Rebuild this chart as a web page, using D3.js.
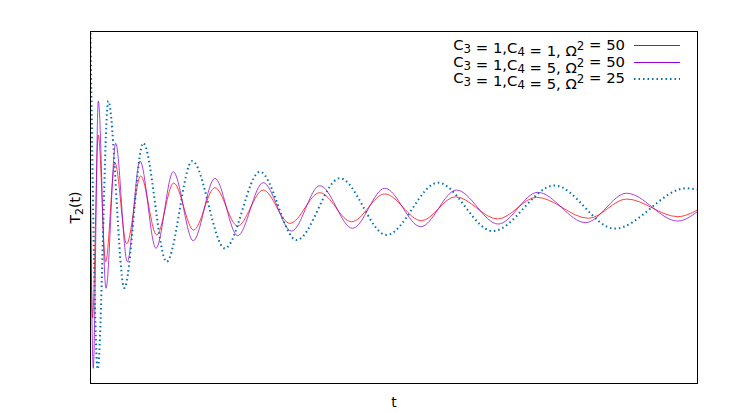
<!DOCTYPE html>
<html>
<head>
<meta charset="utf-8">
<script src="https://cdn.jsdelivr.net/npm/d3@7"></script>
<style>
  html, body { margin: 0; padding: 0; background: #fff; }
  svg { display: block; }
  text { font-family: "DejaVu Sans", sans-serif; fill: #000; }
</style>
</head>
<body>
<svg id="chart" width="742" height="413"></svg>
<script>
// ---- data (turning points of each curve) ----
const tRed = [0, 0.165, 0.642, 1.251, 2.016, 2.979, 4.132, 5.449, 6.848, 8.494, 10.247, 12.115, 14.222, 16.420, 18.889, 21.498, 24.239, 27.259, 30.058, 33.539, 36.749, 41.029, 44.156, 48.379, 50];
const vRed = [0.043, -0.628, 0.412, -0.308, 0.253, -0.207, 0.179, -0.156, 0.139, -0.128, 0.1125, -0.105, 0.099, -0.090, 0.084, -0.081, 0.077, -0.075, 0.061, -0.065, 0.058, -0.061, 0.048, -0.052, -0.014];

const tPurple = [0, 0.230, 0.642, 1.276, 2.074, 3.029, 4.074, 5.391, 6.815, 8.461, 10.247, 12.115, 14.222, 16.560, 18.889, 21.580, 24.239, 27.202, 30.140, 33.580, 36.831, 40.782, 44.156, 48.379, 50];
const vPurple = [0.099, -0.914, 0.605, -0.459, 0.365, -0.308, 0.264, -0.232, 0.203, -0.189, 0.166, -0.160, 0.141, -0.134, 0.124, -0.118, 0.109, -0.109, 0.099, -0.094, 0.086, -0.086, 0.081, -0.077, -0.023];

const tBlue = [0, 0.593, 1.465, 2.782, 4.346, 6.272, 8.379, 11.070, 13.951, 16.971, 20.535, 24.379, 28.626, 33.128, 38.230, 43.169, 49.070, 50];
const vBlue = [0.991, -0.918, 0.605, -0.457, 0.366, -0.308, 0.264, -0.232, 0.203, -0.185, 0.166, -0.156, 0.141, -0.134, 0.125, -0.120, 0.109, 0.102];

const seriesNames = ["C3 = 1,C4 = 1, \u03A92 = 50", "C3 = 1,C4 = 5, \u03A92 = 50", "C3 = 1,C4 = 5, \u03A92 = 25"];
const xDomain = [0, 50];
const yDomain = [-1, 1];
const xLabel = "t";

// ---- layout ----
const svg = d3.select("#chart");
const pLeft = 90.5, pRight = 697.5, pTop = 31.5, pBottom = 383.5;

const x = d3.scaleLinear().domain(xDomain).range([pLeft, pRight]);
const y = d3.scaleLinear().domain(yDomain).range([pBottom, pTop]);

svg.append("defs").append("clipPath").attr("id", "clip")
  .append("rect").attr("x", pLeft).attr("y", pTop)
  .attr("width", pRight - pLeft).attr("height", pBottom - pTop);

const series = [
  { t: tRed, v: vRed, color: "#ff0000", width: 1, dash: null },
  { t: tPurple, v: vPurple, color: "#9400d3", width: 1, dash: null },
  { t: tBlue, v: vBlue, color: "#0072b2", width: 2, dash: "1.5,3" }
];

const line = d3.line().curve(d3.curveMonotoneX)
  .x(d => x(d[0])).y(d => y(d[1]));

const g = svg.append("g").attr("clip-path", "url(#clip)");
series.forEach(s => {
  const pts = s.t.map((t, i) => [t, s.v[i]]);
  g.append("path").datum(pts)
    .attr("d", line)
    .attr("fill", "none")
    .attr("stroke", s.color)
    .attr("stroke-width", s.width)
    .attr("stroke-opacity", s.dash ? 1 : 0.75)
    .attr("stroke-dasharray", s.dash);
});

// frame
svg.append("rect").attr("x", pLeft).attr("y", pTop)
  .attr("width", pRight - pLeft).attr("height", pBottom - pTop)
  .attr("fill", "none").attr("stroke", "#000").attr("stroke-width", 1);

// axis labels
const yl = svg.append("text")
  .attr("transform", "translate(80,207.5) rotate(-90)")
  .attr("text-anchor", "middle").attr("font-size", 14);
yl.append("tspan").text("T");
yl.append("tspan").attr("font-size", 11).attr("dy", 3).text("2");
yl.append("tspan").attr("dy", -3).text("(t)");

svg.append("text").attr("x", 394).attr("y", 407)
  .attr("text-anchor", "middle").attr("font-size", 14).text(xLabel);

// legend
function richLabel(sel, name) {
  const parts = name.split(/(C[0-9]|\u03A9[0-9])/).filter(p => p.length);
  parts.forEach(p => {
    if (/^C[0-9]$/.test(p)) {
      sel.append("tspan").text("C");
      sel.append("tspan").attr("font-size", 11.8).attr("dy", 3).text(p[1]);
      sel.append("tspan").attr("dy", -3).text("");
    } else if (/^\u03A9[0-9]$/.test(p)) {
      sel.append("tspan").text("\u03A9");
      sel.append("tspan").attr("font-size", 11.8).attr("dy", -6).text(p[1]);
      sel.append("tspan").attr("dy", 6).text("");
    } else {
      sel.append("tspan").text(p);
    }
  });
}

const legY = [50, 66.5, 83];
const legLineY = [45.5, 62.5, 79];
series.forEach((s, i) => {
  const t = svg.append("text").attr("x", 625).attr("y", legY[i])
    .attr("text-anchor", "end").attr("font-size", 14.8)
    .attr("xml:space", "preserve");
  richLabel(t, seriesNames[i]);
  svg.append("line")
    .attr("x1", 634).attr("x2", 680)
    .attr("y1", legLineY[i]).attr("y2", legLineY[i])
    .attr("stroke", s.color).attr("stroke-width", s.width)
    .attr("stroke-dasharray", s.dash);
});
</script>
</body>
</html>
